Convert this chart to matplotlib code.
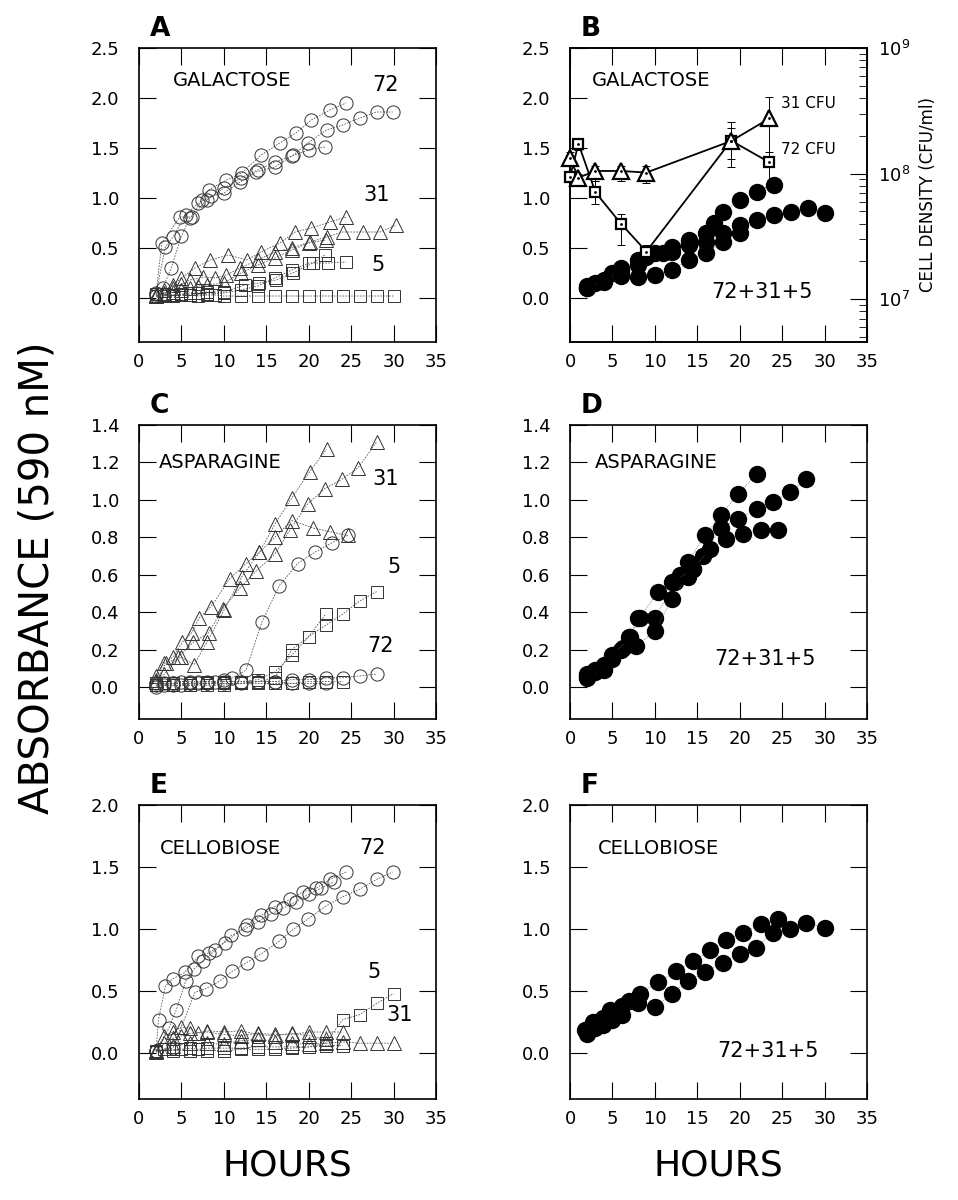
import matplotlib
matplotlib.use("Agg")
import matplotlib.pyplot as plt
from matplotlib import font_manager

# ---------------- data (hours, absorbance) ----------------
# panel A - galactose, single strains
A72_X1 = [2, 2.7, 4.8, 6.2, 7.4, 8.2, 10.3, 12.1, 14.4, 16.6, 18.5, 20.3, 22.5, 24.4]
A72_Y1 = [0.05, 0.55, 0.81, 0.81, 0.98, 1.08, 1.18, 1.25, 1.43, 1.55, 1.65, 1.78, 1.88, 1.95]
A72_X2 = [2, 3.1, 4.0, 5.5, 7.0, 8.5, 10.0, 11.9, 13.8, 16.0, 18.2, 19.9, 22.1, 24.0, 26.0, 28.0, 29.9]
A72_Y2 = [0.04, 0.51, 0.61, 0.83, 0.95, 1.02, 1.05, 1.16, 1.26, 1.31, 1.43, 1.55, 1.68, 1.73, 1.80, 1.86, 1.86]
A72_X3 = [2, 2.8, 3.8, 5.0, 6.0, 8.0, 10.0, 12.0, 14.0, 16.0, 18.0, 20.0, 21.9]
A72_Y3 = [0.02, 0.10, 0.30, 0.62, 0.80, 0.98, 1.10, 1.20, 1.28, 1.36, 1.42, 1.48, 1.51]

A31_X1 = [2, 3, 4, 5, 6.6, 8.4, 10.5, 12.7, 14.4, 16.6, 18.4, 20.3, 22.5, 24.4]
A31_Y1 = [0.03, 0.08, 0.13, 0.20, 0.30, 0.38, 0.43, 0.38, 0.46, 0.55, 0.66, 0.70, 0.76, 0.81]
A31_X2 = [2, 3, 4, 5, 6, 7.6, 9, 10.3, 11.9, 14.0, 16.0, 18.0, 20.1, 22.1, 24.0, 26.4, 28.4, 30.3]
A31_Y2 = [0.02, 0.05, 0.10, 0.14, 0.18, 0.21, 0.20, 0.23, 0.30, 0.38, 0.46, 0.50, 0.56, 0.61, 0.66, 0.66, 0.66, 0.73]
A31_X3 = [2, 3, 4, 5, 6, 7, 8, 10, 12, 14, 16, 18, 20, 22]
A31_Y3 = [0.02, 0.04, 0.06, 0.08, 0.10, 0.12, 0.13, 0.15, 0.25, 0.33, 0.40, 0.48, 0.55, 0.58]

A5_X1 = [2, 3, 4, 5, 6, 7, 8, 10, 12.5, 14.2, 16.2, 18.1, 20.5, 21.9]
A5_Y1 = [0.04, 0.04, 0.03, 0.04, 0.05, 0.05, 0.06, 0.06, 0.13, 0.15, 0.18, 0.25, 0.35, 0.43]
A5_X2 = [2, 4, 6, 8, 10, 12, 14, 16, 18, 20, 22.3, 24.4]
A5_Y2 = [0.02, 0.03, 0.03, 0.04, 0.05, 0.08, 0.12, 0.20, 0.28, 0.35, 0.35, 0.36]
A5_X3 = [2, 3, 4, 5, 6, 7, 8, 9, 10, 12, 14, 16, 18, 20, 22, 24, 26, 28, 30]
A5_Y3 = [0.02, 0.02, 0.02, 0.03, 0.03, 0.02, 0.03, 0.03, 0.02, 0.02, 0.02, 0.02, 0.02, 0.02, 0.02, 0.02, 0.02, 0.02, 0.02]

# panel B - galactose, mixed culture + cell counts
B_X1 = [2, 3, 4, 5, 6, 8, 10, 12, 14, 16, 17, 18, 20, 22, 24]
B_Y1 = [0.10, 0.15, 0.18, 0.25, 0.30, 0.38, 0.45, 0.51, 0.58, 0.65, 0.75, 0.86, 0.98, 1.06, 1.13]
B_X2 = [2, 4, 6, 8, 9, 11, 12, 14, 16, 18, 20, 22, 24, 26, 28, 30]
B_Y2 = [0.12, 0.17, 0.27, 0.33, 0.41, 0.45, 0.46, 0.53, 0.56, 0.65, 0.73, 0.78, 0.83, 0.86, 0.90, 0.85]
B_X3 = [2, 4, 6, 8, 10, 12, 14, 16, 18, 20]
B_Y3 = [0.10, 0.16, 0.22, 0.21, 0.23, 0.28, 0.38, 0.45, 0.56, 0.65]

CFU_X = [0, 1, 3, 6, 9, 19, 23.5]
CFU72 = [9.4e7, 1.73e8, 7.1e7, 4.0e7, 2.4e7, 1.83e8, 1.23e8]
CFU72_LO = [9.0e7, 1.55e8, 5.7e7, 2.7e7, 1.9e7, 1.12e8, 7.9e7]
CFU72_HI = [9.8e7, 1.90e8, 8.8e7, 4.8e7, 2.7e7, 2.57e8, 1.50e8]
CFU31 = [1.32e8, 9.3e7, 1.05e8, 1.05e8, 1.02e8, 1.82e8, 2.75e8]
CFU31_LO = [1.15e8, 8.5e7, 8.8e7, 8.8e7, 8.5e7, 1.30e8, 1.30e8]
CFU31_HI = [1.50e8, 1.00e8, 1.15e8, 1.15e8, 1.15e8, 2.30e8, 4.10e8]

# panel C - asparagine, single strains
C31_X1 = [2, 3, 4, 5.1, 6.2, 7.1, 8.5, 10.7, 12.6, 14.2, 16.0, 18.0, 20.1, 22.1]
C31_Y1 = [0.06, 0.13, 0.16, 0.24, 0.29, 0.37, 0.43, 0.58, 0.66, 0.72, 0.87, 1.01, 1.15, 1.27]
C31_X2 = [2, 3, 4.6, 6.4, 8.2, 9.9, 11.9, 13.8, 16.0, 17.8, 19.9, 21.9, 23.9, 25.8, 28.0]
C31_Y2 = [0.04, 0.07, 0.16, 0.24, 0.29, 0.42, 0.53, 0.62, 0.71, 0.84, 0.98, 1.06, 1.11, 1.17, 1.31]
C31_X3 = [2, 3.2, 5.0, 6.5, 8.0, 10.0, 12.1, 14.2, 16.0, 18.0, 20.5, 22.5, 24.6]
C31_Y3 = [0.03, 0.13, 0.16, 0.12, 0.24, 0.41, 0.59, 0.72, 0.80, 0.89, 0.85, 0.83, 0.81]

C72_X1 = [2, 3, 4, 5, 6, 7, 8, 9, 10, 11, 12.6, 14.5, 16.5, 18.7, 20.7, 22.7, 24.6]
C72_Y1 = [0.02, 0.02, 0.02, 0.03, 0.03, 0.03, 0.03, 0.03, 0.04, 0.05, 0.09, 0.35, 0.54, 0.66, 0.72, 0.77, 0.81]
C72_X2 = [2, 4, 6, 8, 10, 12, 14, 16, 18, 20, 22, 24, 26, 28]
C72_Y2 = [0.01, 0.02, 0.02, 0.02, 0.03, 0.03, 0.03, 0.03, 0.04, 0.04, 0.05, 0.05, 0.06, 0.07]
C72_X3 = [2, 3, 4, 5, 6, 7, 8, 10, 12, 14, 16, 18, 20, 22]
C72_Y3 = [0.0, 0.01, 0.01, 0.01, 0.02, 0.02, 0.02, 0.02, 0.02, 0.03, 0.03, 0.02, 0.02, 0.02]

C5_X1 = [2, 4, 6, 8, 10, 12, 14, 16, 18, 20, 22, 24, 26, 28]
C5_Y1 = [0.01, 0.01, 0.01, 0.02, 0.02, 0.02, 0.03, 0.05, 0.20, 0.27, 0.33, 0.39, 0.46, 0.51]
C5_X2 = [2, 3, 4, 6, 8, 10, 12, 14, 16, 18, 20, 22]
C5_Y2 = [0.02, 0.02, 0.02, 0.02, 0.03, 0.03, 0.03, 0.04, 0.08, 0.17, 0.27, 0.39]
C5_X3 = [2, 4, 6, 8, 10, 12, 14, 16, 18, 20, 22, 24]
C5_Y3 = [0.01, 0.01, 0.01, 0.01, 0.01, 0.02, 0.02, 0.02, 0.02, 0.03, 0.03, 0.03]

# panel D - asparagine, mixed culture
D_X1 = [2, 3, 4, 5, 6, 7, 8, 10, 12.4, 13, 13.9, 15.9, 17.8, 19.8, 22]
D_Y1 = [0.05, 0.09, 0.10, 0.16, 0.20, 0.27, 0.37, 0.37, 0.56, 0.60, 0.67, 0.81, 0.92, 1.03, 1.14]
D_X2 = [2, 3, 4, 5, 6.3, 7.8, 10, 12, 13.9, 14.5, 15.7, 17.8, 19.8, 22, 23.9, 25.9, 27.8]
D_Y2 = [0.07, 0.08, 0.12, 0.15, 0.21, 0.22, 0.30, 0.47, 0.59, 0.63, 0.70, 0.85, 0.90, 0.95, 0.99, 1.04, 1.11]
D_X3 = [2, 4, 5, 7.1, 8.2, 10.4, 12, 14.5, 16.5, 18.4, 20.4, 22.5, 24.5]
D_Y3 = [0.06, 0.09, 0.17, 0.27, 0.37, 0.51, 0.56, 0.63, 0.74, 0.79, 0.82, 0.84, 0.84]

# panel E - cellobiose, single strains
E72_X1 = [2, 2.3, 3.1, 4.0, 5.4, 7.0, 8.3, 10.1, 12.7, 14.4, 16.0, 17.8, 19.3, 20.9, 22.5, 24.4]
E72_Y1 = [0.02, 0.27, 0.54, 0.60, 0.65, 0.78, 0.81, 0.89, 1.03, 1.11, 1.18, 1.24, 1.30, 1.33, 1.40, 1.46]
E72_X2 = [2, 3.5, 4.4, 5.5, 6.5, 7.5, 9.0, 10.9, 12.5, 14.0, 15.5, 17.0, 18.5, 20.0, 21.5, 23.0]
E72_Y2 = [0.02, 0.20, 0.35, 0.58, 0.68, 0.74, 0.83, 0.95, 1.00, 1.06, 1.12, 1.17, 1.22, 1.28, 1.33, 1.38]
E72_X3 = [2, 4, 6.6, 7.9, 9.5, 11.0, 12.7, 14.4, 16.5, 18.2, 19.9, 21.9, 24.0, 26.0, 28.0, 29.9]
E72_Y3 = [0.02, 0.04, 0.49, 0.52, 0.58, 0.66, 0.73, 0.80, 0.90, 1.00, 1.08, 1.18, 1.26, 1.32, 1.40, 1.46]

E31_X1 = [2, 3, 4, 5, 6, 7, 8, 10, 12, 14, 16, 18, 20, 22]
E31_Y1 = [0.02, 0.14, 0.17, 0.21, 0.20, 0.16, 0.18, 0.17, 0.18, 0.15, 0.14, 0.16, 0.14, 0.11]
E31_X2 = [2, 3, 4, 5, 6, 8, 10, 12, 14, 16, 18, 20, 22, 24]
E31_Y2 = [0.02, 0.08, 0.12, 0.14, 0.16, 0.17, 0.15, 0.14, 0.16, 0.15, 0.15, 0.17, 0.17, 0.17]
E31_X3 = [2, 4, 6, 8, 10, 12, 14, 16, 18, 20, 22, 24, 26, 28, 30]
E31_Y3 = [0.01, 0.06, 0.08, 0.08, 0.07, 0.10, 0.11, 0.09, 0.08, 0.07, 0.08, 0.09, 0.08, 0.08, 0.08]

E5_X1 = [2, 3, 4, 5, 6, 7, 8, 10, 12, 14, 16, 18, 20, 22, 24]
E5_Y1 = [0.02, 0.03, 0.03, 0.03, 0.04, 0.03, 0.04, 0.04, 0.04, 0.05, 0.05, 0.05, 0.05, 0.06, 0.06]
E5_X2 = [2, 4, 6, 8, 10, 12, 14, 16, 18, 20, 22, 24, 26, 28, 30]
E5_Y2 = [0.01, 0.02, 0.02, 0.02, 0.02, 0.03, 0.03, 0.03, 0.04, 0.05, 0.08, 0.27, 0.31, 0.40, 0.48]

# panel F - cellobiose, mixed culture
F_X1 = [1.8, 2.7, 3.9, 4.7, 6.1, 6.9, 8.2, 10.4, 12.5, 14.5, 16.5, 18.4, 20.4, 22.5, 24.5]
F_Y1 = [0.19, 0.25, 0.28, 0.35, 0.38, 0.42, 0.48, 0.57, 0.66, 0.74, 0.83, 0.91, 0.97, 1.04, 1.08]
F_X2 = [2, 3, 3.9, 5, 6.1, 8, 10.0, 12.0, 13.9, 15.9, 18.0, 20.0, 21.9, 23.9, 25.9, 27.8, 30.0]
F_Y2 = [0.15, 0.20, 0.23, 0.27, 0.31, 0.40, 0.37, 0.48, 0.58, 0.65, 0.73, 0.80, 0.85, 0.97, 1.00, 1.05, 1.01]

XTICKS = [0, 5, 10, 15, 20, 25, 30, 35]
YTICKS_AB = [0.0, 0.5, 1.0, 1.5, 2.0, 2.5]
YTICKS_CD = [0.0, 0.2, 0.4, 0.6, 0.8, 1.0, 1.2, 1.4]
YTICKS_EF = [0.0, 0.5, 1.0, 1.5, 2.0]

# narrow face for the big axis title if it is there
try:
    font_manager.findfont("Liberation Sans Narrow", fallback_to_default=False)
    TITLE_FONT, TITLE_SIZE = "Liberation Sans Narrow", 36
except ValueError:
    TITLE_FONT, TITLE_SIZE = "DejaVu Sans", 29

# ---------------- figure ----------------
W, H = 958, 1200
fig = plt.figure(figsize=(W / 100, H / 100), dpi=100)


def box(x0, y0, w=297, h=294):
    return fig.add_axes([x0 / W, 1 - (y0 + h) / H, w / W, h / H])


def style(ax, ylim, yticks, letter, right=True):
    ax.set_xlim(0, 35)
    ax.set_ylim(*ylim)
    ax.set_xticks(XTICKS)
    ax.set_yticks(yticks)
    ax.set_yticklabels([f"{v:.1f}" for v in yticks])
    ax.tick_params(direction="in", length=12, width=0.8, top=True, right=right,
                   labelsize=13, colors="black")
    ax.tick_params(axis="y", pad=14)
    ax.tick_params(axis="x", pad=8)
    for s in ax.spines.values():
        s.set_linewidth(1.2)
    ax.text(0.035, 1.02, letter, transform=ax.transAxes, fontsize=19,
            fontweight="bold", ha="left", va="bottom")


open_kw = dict(mfc="none", mec="0.2", mew=0.7, color="0.35", lw=0.6,
               ls=(0, (2, 1.5)))


def reps(ax, series, marker, ms):
    for xs, ys in series:
        ax.plot(xs, ys, marker=marker, ms=ms, **open_kw)


def filled(ax, series):
    for xs, ys in series:
        ax.plot(xs, ys, marker="o", ms=11.5, mfc="black", mec="black",
                color="0.4", lw=0.6, ls=(0, (1, 1.5)))


axA = box(139, 48)
axB = box(570, 48)
axC = box(139, 425)
axD = box(570, 425)
axE = box(139, 805)
axF = box(570, 805)

# A
reps(axA, [(A72_X1, A72_Y1), (A72_X2, A72_Y2), (A72_X3, A72_Y3)], "o", 9.5)
reps(axA, [(A31_X1, A31_Y1), (A31_X2, A31_Y2), (A31_X3, A31_Y3)], "^", 9.5)
reps(axA, [(A5_X1, A5_Y1), (A5_X2, A5_Y2), (A5_X3, A5_Y3)], "s", 8)
style(axA, (-0.44, 2.5), YTICKS_AB, "A")
axA.text(4.0, 2.17, "GALACTOSE", fontsize=14, va="center")
axA.text(27.5, 2.13, "72", fontsize=15, va="center")
axA.text(26.4, 1.03, "31", fontsize=15, va="center")
axA.text(27.4, 0.33, "5", fontsize=15, va="center")

# B
filled(axB, [(B_X1, B_Y1), (B_X2, B_Y2), (B_X3, B_Y3)])
style(axB, (-0.44, 2.5), YTICKS_AB, "B", right=False)
axB.text(2.6, 2.17, "GALACTOSE", fontsize=14, va="center")
axB.text(16.7, 0.06, "72+31+5", fontsize=15, va="center")
axB.text(24.9, 1.95, "31 CFU", fontsize=11, va="center")
axB.text(24.9, 1.49, "72 CFU", fontsize=11, va="center")

axB2 = axB.twinx()
axB2.set_yscale("log")
axB2.set_ylim(10 ** 6.66, 1e9)
axB2.set_xlim(0, 35)
for vals, lo, hi, mk, ms in [(CFU72, CFU72_LO, CFU72_HI, "s", 7.5),
                              (CFU31, CFU31_LO, CFU31_HI, "^", 11)]:
    err = [[v - l for v, l in zip(vals, lo)], [h - v for v, h in zip(vals, hi)]]
    axB2.errorbar(CFU_X, vals, yerr=err, fmt="none", ecolor="black",
                  elinewidth=0.7, capsize=3, capthick=0.7, clip_on=False)
    axB2.plot(CFU_X, vals, marker=mk, ms=ms, mfc="white", mec="black",
              mew=1.6, color="black", lw=1.3, clip_on=False, zorder=4)
    axB2.plot(CFU_X, vals, ls="none", marker=".", ms=2, color="black",
              clip_on=False, zorder=5)
axB2.tick_params(axis="y", which="major", direction="in", length=12,
                 width=0.8, labelsize=13, pad=8)
axB2.tick_params(axis="y", which="minor", direction="in", length=6, width=0.6)
axB2.set_ylabel("CELL DENSITY (CFU/ml)", fontsize=12, labelpad=6)
for s in axB2.spines.values():
    s.set_linewidth(1.2)

# C
reps(axC, [(C31_X1, C31_Y1), (C31_X2, C31_Y2), (C31_X3, C31_Y3)], "^", 9.5)
reps(axC, [(C72_X1, C72_Y1), (C72_X2, C72_Y2), (C72_X3, C72_Y3)], "o", 9.5)
reps(axC, [(C5_X1, C5_Y1), (C5_X2, C5_Y2), (C5_X3, C5_Y3)], "s", 8)
style(axC, (-0.17, 1.4), YTICKS_CD, "C")
axC.text(2.3, 1.2, "ASPARAGINE", fontsize=14, va="center")
axC.text(27.5, 1.11, "31", fontsize=15, va="center")
axC.text(29.3, 0.64, "5", fontsize=15, va="center")
axC.text(26.9, 0.22, "72", fontsize=15, va="center")

# D
filled(axD, [(D_X1, D_Y1), (D_X2, D_Y2), (D_X3, D_Y3)])
style(axD, (-0.17, 1.4), YTICKS_CD, "D")
axD.text(2.9, 1.2, "ASPARAGINE", fontsize=14, va="center")
axD.text(17.0, 0.15, "72+31+5", fontsize=15, va="center")

# E
reps(axE, [(E72_X1, E72_Y1), (E72_X2, E72_Y2), (E72_X3, E72_Y3)], "o", 9.5)
reps(axE, [(E31_X1, E31_Y1), (E31_X2, E31_Y2), (E31_X3, E31_Y3)], "^", 9.5)
reps(axE, [(E5_X1, E5_Y1), (E5_X2, E5_Y2)], "s", 8)
style(axE, (-0.37, 2.0), YTICKS_EF, "E")
axE.text(2.5, 1.65, "CELLOBIOSE", fontsize=14, va="center")
axE.text(26.0, 1.65, "72", fontsize=15, va="center")
axE.text(26.9, 0.65, "5", fontsize=15, va="center")
axE.text(29.2, 0.31, "31", fontsize=15, va="center")

# F
filled(axF, [(F_X1, F_Y1), (F_X2, F_Y2)])
style(axF, (-0.37, 2.0), YTICKS_EF, "F")
axF.text(3.3, 1.65, "CELLOBIOSE", fontsize=14, va="center")
axF.text(17.3, 0.02, "72+31+5", fontsize=15, va="center")

# shared labels
fig.text(38 / W, 1 - 578 / H, "ABSORBANCE (590 nM)", rotation=90,
         fontsize=TITLE_SIZE, family=TITLE_FONT, ha="center", va="center")
fig.text(287 / W, 1 - 1166 / H, "HOURS", fontsize=26, ha="center", va="center")
fig.text(718 / W, 1 - 1166 / H, "HOURS", fontsize=26, ha="center", va="center")

fig.savefig("out.png", dpi=100)
